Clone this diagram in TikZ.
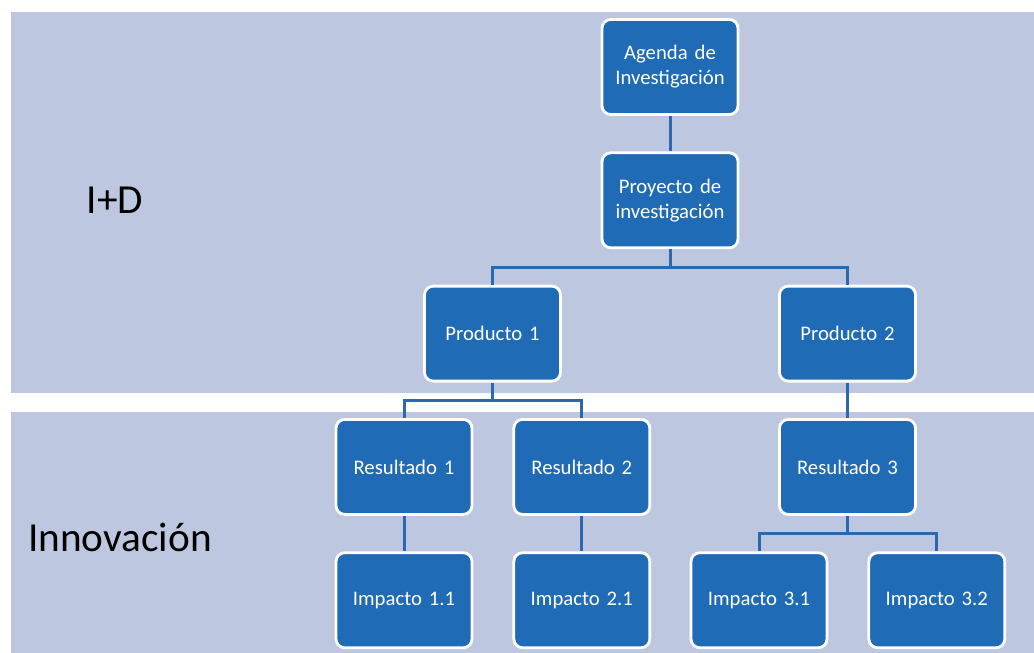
\documentclass[tikz,border=0pt]{standalone}
\usepackage{fontspec}
\setmainfont{Carlito}
\usepackage{xcolor}
\usetikzlibrary{positioning}
\definecolor{bandbg}{HTML}{BEC7E0}
\definecolor{boxblue}{HTML}{1F6BB5}
\definecolor{linkblue}{HTML}{2C68AE}
\tikzset{
  stagebox/.style={
    rectangle, rounded corners=5pt, draw=white, line width=1.6pt,
    fill=boxblue, text=white, text width=2.3cm, align=center,
    minimum width=2.72cm, minimum height=1.9cm,
    font=\fontsize{11.8}{14.2}\selectfont
  },
  bandlabel/.style={font=\fontsize{23.5}{28}\selectfont, text=black},
  link/.style={draw=linkblue, line width=1.7pt},
}

\begin{document}
\begin{tikzpicture}[node distance=0.71cm and 0.78cm]
  \useasboundingbox (0,0) rectangle (20.68,-13.06);
  % bands
  \fill[bandbg] (0.22,-0.24) rectangle (20.68,-7.86);
  \fill[bandbg] (0.22,-8.24) rectangle (20.68,-13.06);
  \node[bandlabel] (idlabel) at (2.3,-4.0) {I+D};
  \node[bandlabel] (innlabel) at (2.4,-10.74) {Innovación};

  \node[stagebox] (agenda) at (13.4,-1.34) {Agenda de Investigación};
  \node[stagebox, below=of agenda] (proyecto) {Proyecto de investigación};
  \node[stagebox, below=of proyecto, xshift=-3.55cm] (prod1) {Producto 1};
  \node[stagebox, below=of proyecto, xshift=3.55cm] (prod2) {Producto 2};
  \node[stagebox, below=of prod1, xshift=-1.77cm] (res1) {Resultado 1};
  \node[stagebox, right=of res1] (res2) {Resultado 2};
  \node[stagebox, below=of prod2] (res3) {Resultado 3};
  \node[stagebox, below=of res1] (imp11) {Impacto 1.1};
  \node[stagebox, below=of res2] (imp21) {Impacto 2.1};
  \node[stagebox, below=of res3, xshift=-1.77cm] (imp31) {Impacto 3.1};
  \node[stagebox, right=of imp31] (imp32) {Impacto 3.2};

  % straight links
  \foreach \a/\b in {agenda/proyecto,prod2/res3,res1/imp11,res2/imp21}
    \draw[link] (\a) -- (\b);
  % elbow links
  \foreach \a/\b in {proyecto/prod1,proyecto/prod2,prod1/res1,prod1/res2,res3/imp31,res3/imp32}
    \draw[link] (\a.south) -- ++(0,-0.36) -| (\b.north);
\end{tikzpicture}
\end{document}
